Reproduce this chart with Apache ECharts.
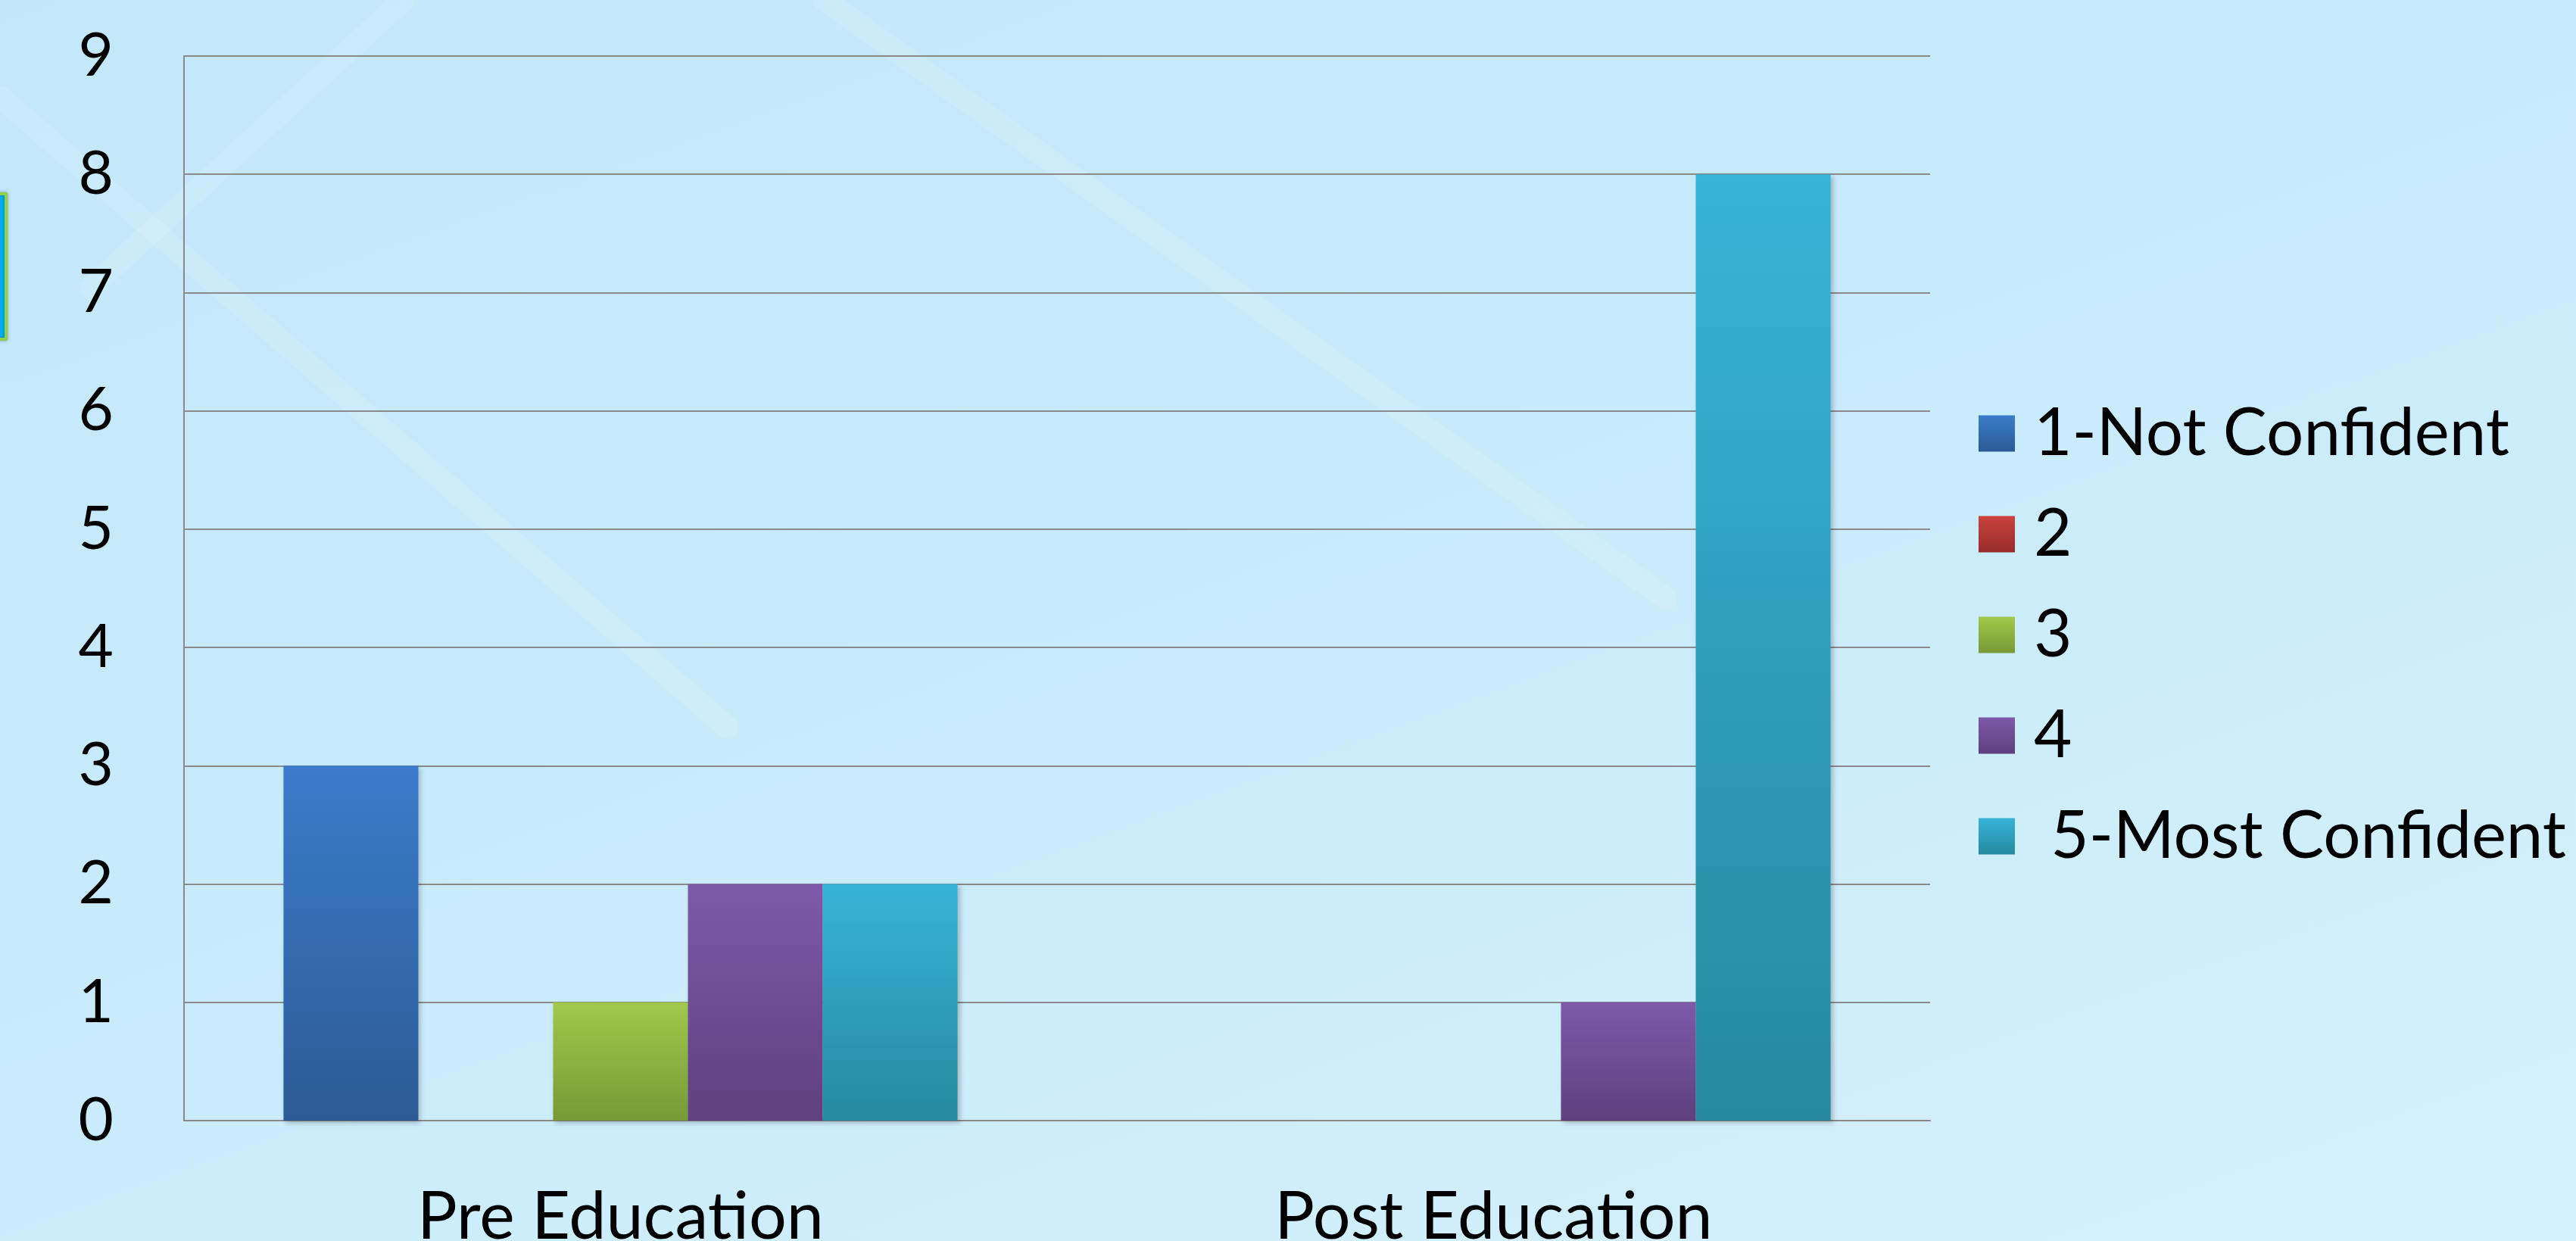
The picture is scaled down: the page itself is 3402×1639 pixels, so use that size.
<!DOCTYPE html>
<html>
<head>
<meta charset="utf-8">
<script src="https://cdn.jsdelivr.net/npm/echarts@6/dist/echarts.min.js"></script>
<style>
html,body{margin:0;padding:0;width:3402px;height:1639px;overflow:hidden;
background:linear-gradient(160deg,#c3e8f9 0%,#c8ebfa 45%,#d4f1fb 100%);}
#chart{width:3402px;height:1639px;}
</style>
</head>
<body>
<div id="chart"></div>
<script>
const categories = ['Pre Education', 'Post Education'];
const seriesNames = ['1-Not Confident', '2', '3', '4', ' 5-Most Confident'];
const notConfident = [3, 0];
const two = [0, 0];
const three = [1, 0];
const four = [2, 1];
const mostConfident = [2, 8];
const yTicks = [0, 1, 2, 3, 4, 5, 6, 7, 8, 9];

const values = [notConfident, two, three, four, mostConfident];
const colorStops = [
  ['#3c7cca', '#2c5a95'],
  ['#cb423e', '#982b29'],
  ['#a2c84b', '#779936'],
  ['#7f59a9', '#5f3f7d'],
  ['#37b4d9', '#26899f']
];
const FONT = 'Lato';

const chart = echarts.init(document.getElementById('chart'), null, {renderer: 'canvas'});
const series = seriesNames.map((name, i) => ({
  name: name,
  type: 'bar',
  data: values[i],
  barGap: '0%',
  barCategoryGap: '22.8%',
  itemStyle: {
    color: new echarts.graphic.LinearGradient(0, 0, 0, 1, [
      {offset: 0, color: colorStops[i][0]},
      {offset: 1, color: colorStops[i][1]}
    ]),
    shadowColor: 'rgba(0,0,0,0.22)',
    shadowBlur: 6,
    shadowOffsetX: 3,
    shadowOffsetY: 3
  },
  emphasis: {disabled: true}
}));

const streak = (x1, y1, x2, y2) => ({
  type: 'line', shape: {x1, y1, x2, y2}, silent: true, z: -10,
  style: {stroke: 'rgba(255,255,255,0.09)', lineWidth: 30, lineCap: 'round', shadowBlur: 30, shadowColor: 'rgba(255,255,255,0.4)'}
});

chart.setOption({
  animation: false,
  backgroundColor: 'transparent',
  graphic: [
    streak(0, 128, 960, 960),
    streak(533, 0, 120, 380),
    streak(1089, 0, 2200, 790),
    {type: 'rect', shape: {x: -20, y: 256, width: 28, height: 192}, style: {fill: '#00b0f0', stroke: '#92d050', lineWidth: 4, shadowBlur: 4, shadowColor: 'rgba(0,0,0,0.3)'}, silent: true, z: -5}
  ],
  grid: {left: 243, right: 853, top: 74, bottom: 159, containLabel: false, outerBoundsMode: 'none'},
  legend: {
    orient: 'vertical',
    left: 2608,
    top: 524,
    itemWidth: 48,
    itemHeight: 48,
    itemGap: 46,
    icon: 'rect',
    selectedMode: false,
    data: seriesNames,
    textStyle: {fontFamily: FONT, fontSize: 87, color: '#000', padding: [0, 0, 0, 20]}
  },
  xAxis: {
    type: 'category',
    data: categories,
    axisLine: {show: true, lineStyle: {color: '#8a8a8a', width: 2}},
    axisTick: {show: false},
    axisLabel: {fontFamily: FONT, fontSize: 88, color: '#000', margin: 84}
  },
  yAxis: {
    type: 'value',
    min: 0,
    max: 9,
    interval: 1,
    axisLine: {show: true, lineStyle: {color: '#8a8a8a', width: 2}},
    axisTick: {show: false},
    splitLine: {show: true, lineStyle: {color: '#8a8a8a', width: 2}},
    axisLabel: {fontFamily: FONT, fontSize: 80, color: '#000', margin: 93,
      formatter: v => yTicks.includes(v) ? String(v) : ''}
  },
  series: series
});
</script>
</body>
</html>
